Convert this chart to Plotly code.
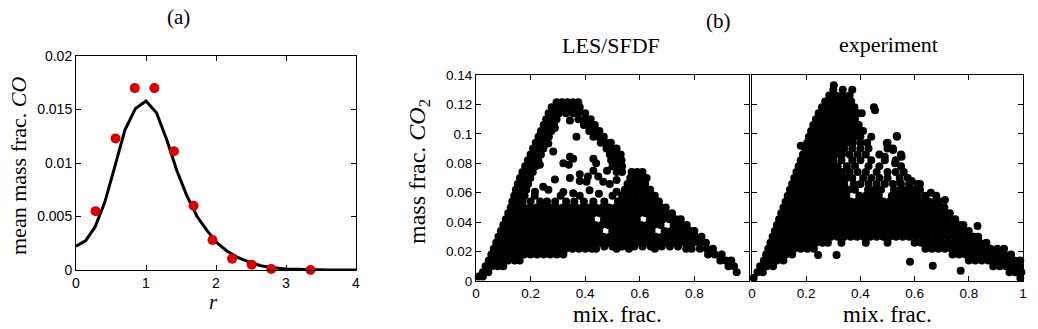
import plotly.graph_objects as go

# (a) mean CO mass fraction against r
r_model = [0, 0.14, 0.27, 0.41, 0.56, 0.70, 0.85, 1.0, 1.15, 1.3, 1.44, 1.58, 1.73, 1.87,
           2.02, 2.16, 2.30, 2.45, 2.64, 2.83, 3.0, 3.3, 3.6, 4.0]
co_model = [0.00222, 0.00275, 0.004, 0.0063, 0.0098, 0.0131, 0.0151, 0.0158, 0.0147, 0.0121,
            0.0093, 0.0070, 0.0050, 0.0037, 0.0025, 0.00175, 0.0012, 0.0008, 0.0004, 0.0002,
            0.0001, 0.00003, 0.00001, 0.0]
r_meas = [0.28, 0.565, 0.84, 1.12, 1.40, 1.68, 1.95, 2.23, 2.51, 2.79, 3.35]
co_meas = [0.0055, 0.0123, 0.017, 0.017, 0.0111, 0.006, 0.0028, 0.00106, 0.0005, 0.0001, 0.0]

# (b) scatter clouds: (CO2, [mix. frac. values])
les_band_rows = [
    (0.003, [0.01, 0.025]),
    (0.006, [0.025, 0.045, 0.955]),
    (0.010, [0.035, 0.058, 0.08, 0.1, 0.925, 0.945]),
    (0.014, [0.047, 0.07, 0.094, 0.118, 0.142, 0.16, 0.895, 0.915, 0.935]),
    (0.018, [0.056, 0.08, 0.104, 0.128, 0.152, 0.176, 0.2, 0.224, 0.248, 0.272, 0.296, 0.32,
             0.85, 0.875, 0.9]),
    (0.022, [0.065, 0.089, 0.113, 0.137, 0.161, 0.185, 0.209, 0.233, 0.257, 0.281, 0.305, 0.329,
             0.353, 0.377, 0.401, 0.425, 0.44, 0.515, 0.56, 0.655, 0.77, 0.79, 0.82, 0.845,
             0.868]),
    (0.0235, [0.47, 0.5, 0.535, 0.58, 0.61, 0.64, 0.68, 0.71, 0.74]),
    (0.026, [0.074, 0.098, 0.122, 0.146, 0.17, 0.194, 0.218, 0.242, 0.266, 0.29, 0.314, 0.338,
             0.362, 0.386, 0.41, 0.434, 0.458, 0.482, 0.506, 0.53, 0.554, 0.578, 0.602, 0.626,
             0.65, 0.674, 0.698, 0.722, 0.746, 0.77, 0.794, 0.818, 0.842]),
    (0.030, [0.082, 0.106, 0.13, 0.154, 0.178, 0.202, 0.226, 0.25, 0.274, 0.298, 0.322, 0.346,
             0.37, 0.394, 0.418, 0.442, 0.466, 0.49, 0.514, 0.538, 0.562, 0.586, 0.61, 0.634,
             0.658, 0.682, 0.706, 0.73, 0.754, 0.778, 0.802, 0.826]),
    (0.034, [0.091, 0.115, 0.139, 0.163, 0.187, 0.211, 0.235, 0.259, 0.283, 0.307, 0.331, 0.355,
             0.379, 0.403, 0.427, 0.451, 0.499, 0.523, 0.547, 0.571, 0.595, 0.619, 0.643,
             0.691, 0.715, 0.739, 0.763, 0.787, 0.8]),
    (0.038, [0.1, 0.124, 0.148, 0.172, 0.196, 0.22, 0.244, 0.268, 0.292, 0.316, 0.34, 0.364,
             0.388, 0.412, 0.436, 0.46, 0.484, 0.508, 0.532, 0.556, 0.58, 0.604, 0.628, 0.652,
             0.676, 0.724, 0.748, 0.772]),
    (0.042, [0.109, 0.133, 0.157, 0.181, 0.205, 0.229, 0.253, 0.277, 0.301, 0.325, 0.349, 0.373,
             0.397, 0.421, 0.469, 0.493, 0.517, 0.541, 0.565, 0.589, 0.637, 0.661, 0.685,
             0.709, 0.733, 0.75]),
    (0.046, [0.118, 0.142, 0.166, 0.19, 0.214, 0.238, 0.262, 0.286, 0.31, 0.334, 0.358, 0.382,
             0.406, 0.43, 0.454, 0.478, 0.502, 0.526, 0.55, 0.574, 0.598, 0.622, 0.646, 0.67,
             0.694, 0.718]),
    (0.050, [0.127, 0.151, 0.175, 0.199, 0.223, 0.247, 0.271, 0.295, 0.319, 0.343, 0.367, 0.391,
             0.415, 0.439, 0.463, 0.487, 0.511, 0.535, 0.559, 0.583, 0.607, 0.631, 0.655, 0.679,
             0.695]),
    (0.054, [0.2, 0.235, 0.26, 0.29, 0.33, 0.36, 0.395, 0.43, 0.47, 0.52, 0.545, 0.57, 0.595,
             0.62, 0.645, 0.67]),
    (0.058, [0.215, 0.31, 0.38, 0.5, 0.535, 0.56, 0.585, 0.61, 0.635, 0.655]),
    (0.062, [0.545, 0.57, 0.595, 0.62, 0.638]),
    (0.066, [0.555, 0.58, 0.6, 0.62]),
    (0.070, [0.565, 0.585, 0.605, 0.625]),
]
les_tri_rows = [
    (0.054, [0.133, 0.153, 0.171]),
    (0.058, [0.14, 0.16, 0.178]),
    (0.062, [0.146, 0.166, 0.184]),
    (0.066, [0.153, 0.173, 0.191]),
    (0.070, [0.161, 0.181, 0.199]),
    (0.074, [0.17, 0.19, 0.208, 0.515, 0.535, 0.57, 0.59, 0.61]),
    (0.078, [0.18, 0.2, 0.218, 0.5, 0.518, 0.535]),
    (0.082, [0.19, 0.21, 0.228, 0.495, 0.515, 0.533]),
    (0.086, [0.2, 0.22, 0.238, 0.49, 0.51, 0.53]),
    (0.090, [0.209, 0.229, 0.247, 0.478, 0.497, 0.515]),
    (0.094, [0.219, 0.239, 0.257, 0.457, 0.475, 0.494]),
    (0.098, [0.229, 0.249, 0.267, 0.43, 0.449, 0.468]),
    (0.102, [0.238, 0.258, 0.276, 0.415, 0.433, 0.452]),
    (0.106, [0.248, 0.268, 0.286, 0.395, 0.415, 0.435]),
    (0.110, [0.257, 0.277, 0.295, 0.375, 0.4, 0.42]),
    (0.114, [0.266, 0.286, 0.304, 0.33, 0.355, 0.375, 0.4]),
    (0.118, [0.277, 0.297, 0.317, 0.34, 0.36, 0.38]),
    (0.1215, [0.295, 0.315, 0.335, 0.355, 0.375]),
]
les_dots = [(0.283, 0.108), (0.344, 0.109), (0.289, 0.104), (0.368, 0.098), (0.283, 0.088),
            (0.344, 0.0845), (0.34, 0.079), (0.32, 0.080), (0.356, 0.083), (0.234, 0.079),
            (0.289, 0.069), (0.344, 0.070), (0.38, 0.0725), (0.41, 0.071), (0.43, 0.075),
            (0.38, 0.068), (0.43, 0.083), (0.265, 0.062), (0.32, 0.0605), (0.416, 0.0616),
            (0.45, 0.0593), (0.48, 0.075), (0.44, 0.080), (0.466, 0.0675), (0.49, 0.066),
            (0.515, 0.0686), (0.405, 0.0675), (0.448, 0.071), (0.246, 0.064), (0.216, 0.0607),
            (0.356, 0.0596), (0.515, 0.0607), (0.265, 0.0935)]

exp_band_rows = [
    (0.002, [0.006, 0.99]),
    (0.006, [0.02, 0.04, 0.95, 0.972, 0.994]),
    (0.010, [0.03, 0.054, 0.078, 0.89, 0.914, 0.938, 0.962, 0.986]),
    (0.014, [0.044, 0.068, 0.092, 0.116, 0.80, 0.824, 0.848, 0.872, 0.896, 0.92, 0.944, 0.968,
             0.99]),
    (0.018, [0.052, 0.076, 0.1, 0.124, 0.148, 0.74, 0.764, 0.788, 0.812, 0.836, 0.86, 0.884,
             0.908, 0.932, 0.956]),
    (0.022, [0.06, 0.084, 0.108, 0.132, 0.156, 0.18, 0.204, 0.228, 0.64, 0.664, 0.688, 0.712,
             0.736, 0.76, 0.784, 0.808, 0.832, 0.856, 0.88, 0.905, 0.93]),
    (0.026, [0.068, 0.092, 0.116, 0.14, 0.164, 0.188, 0.212, 0.236, 0.26, 0.28, 0.33, 0.42, 0.5,
             0.6, 0.624, 0.648, 0.672, 0.696, 0.72, 0.744, 0.768, 0.792, 0.816, 0.84, 0.865]),
    (0.030, [0.076, 0.1, 0.124, 0.148, 0.172, 0.196, 0.22, 0.244, 0.268, 0.292, 0.316, 0.34,
             0.364, 0.388, 0.412, 0.436, 0.46, 0.484, 0.508, 0.532, 0.556, 0.58, 0.604, 0.628,
             0.652, 0.676, 0.7, 0.724, 0.748, 0.772, 0.796, 0.82, 0.835]),
    (0.034, [0.084, 0.108, 0.132, 0.156, 0.18, 0.204, 0.228, 0.252, 0.276, 0.3, 0.324, 0.348,
             0.372, 0.396, 0.42, 0.444, 0.468, 0.492, 0.516, 0.54, 0.564, 0.588, 0.612, 0.636,
             0.66, 0.684, 0.708, 0.732, 0.756, 0.78, 0.8]),
    (0.038, [0.092, 0.116, 0.14, 0.164, 0.188, 0.212, 0.236, 0.26, 0.284, 0.308, 0.332, 0.356,
             0.38, 0.404, 0.428, 0.452, 0.476, 0.5, 0.524, 0.548, 0.572, 0.596, 0.62, 0.644,
             0.668, 0.692, 0.716, 0.74, 0.764, 0.78]),
    (0.042, [0.1, 0.124, 0.148, 0.172, 0.196, 0.22, 0.244, 0.268, 0.292, 0.316, 0.34, 0.364,
             0.388, 0.412, 0.436, 0.46, 0.484, 0.508, 0.532, 0.556, 0.58, 0.604, 0.628, 0.652,
             0.676, 0.7, 0.724, 0.75]),
    (0.046, [0.108, 0.132, 0.156, 0.18, 0.204, 0.228, 0.252, 0.276, 0.3, 0.324, 0.348, 0.372,
             0.396, 0.42, 0.444, 0.468, 0.492, 0.516, 0.54, 0.564, 0.588, 0.612, 0.636, 0.66,
             0.684, 0.708, 0.73]),
    (0.050, [0.116, 0.14, 0.164, 0.188, 0.212, 0.236, 0.26, 0.284, 0.308, 0.332, 0.356, 0.38,
             0.404, 0.428, 0.452, 0.476, 0.5, 0.524, 0.548, 0.572, 0.596, 0.62, 0.644, 0.668,
             0.692, 0.71]),
    (0.054, [0.124, 0.148, 0.172, 0.196, 0.22, 0.244, 0.268, 0.292, 0.316, 0.34, 0.364, 0.388,
             0.412, 0.436, 0.46, 0.484, 0.508, 0.532, 0.556, 0.58, 0.604, 0.628, 0.652, 0.676,
             0.69]),
    (0.058, [0.132, 0.156, 0.18, 0.204, 0.228, 0.252, 0.276, 0.3, 0.324, 0.348, 0.396, 0.42,
             0.444, 0.468, 0.516, 0.54, 0.564, 0.588, 0.612, 0.64]),
    (0.062, [0.14, 0.164, 0.188, 0.212, 0.236, 0.26, 0.284, 0.308, 0.332, 0.356, 0.38, 0.428,
             0.452, 0.476, 0.524, 0.548, 0.572, 0.596, 0.62]),
]
exp_tri_rows = [
    (0.066, [0.148, 0.172, 0.196, 0.22, 0.244, 0.268, 0.292, 0.316, 0.34, 0.375, 0.4, 0.43,
             0.46, 0.49, 0.52, 0.55, 0.58, 0.61]),
    (0.070, [0.156, 0.18, 0.204, 0.228, 0.252, 0.276, 0.3, 0.324, 0.348, 0.37, 0.41, 0.44,
             0.47, 0.5, 0.545, 0.575]),
    (0.074, [0.164, 0.188, 0.212, 0.236, 0.26, 0.284, 0.308, 0.332, 0.36, 0.39, 0.42, 0.46,
             0.5, 0.53, 0.56]),
    (0.078, [0.172, 0.196, 0.22, 0.244, 0.268, 0.292, 0.316, 0.35, 0.38, 0.43, 0.47, 0.55]),
    (0.082, [0.18, 0.204, 0.228, 0.252, 0.276, 0.3, 0.33, 0.37, 0.4, 0.44, 0.49, 0.53]),
    (0.086, [0.188, 0.212, 0.236, 0.26, 0.284, 0.308, 0.332, 0.36, 0.39, 0.42, 0.47, 0.55]),
    (0.090, [0.196, 0.22, 0.244, 0.268, 0.292, 0.316, 0.34, 0.37, 0.4, 0.43, 0.5, 0.52]),
    (0.094, [0.204, 0.228, 0.252, 0.276, 0.3, 0.324, 0.348, 0.372, 0.4, 0.425, 0.5]),
    (0.098, [0.21, 0.234, 0.258, 0.282, 0.306, 0.33, 0.354, 0.378, 0.4, 0.44, 0.535]),
    (0.102, [0.218, 0.242, 0.266, 0.29, 0.314, 0.338, 0.362, 0.386, 0.41]),
    (0.106, [0.226, 0.25, 0.274, 0.298, 0.322, 0.346, 0.37, 0.394]),
    (0.110, [0.236, 0.26, 0.284, 0.308, 0.332, 0.356, 0.38]),
    (0.114, [0.246, 0.27, 0.294, 0.318, 0.342, 0.366, 0.39, 0.405]),
    (0.118, [0.258, 0.282, 0.306, 0.33, 0.354, 0.378, 0.45]),
    (0.122, [0.27, 0.294, 0.318, 0.342, 0.366]),
    (0.126, [0.285, 0.31, 0.334, 0.36]),
    (0.130, [0.3, 0.335, 0.37]),
]
exp_dots = [(0.302, 0.133), (0.18, 0.092), (0.454, 0.116), (0.534, 0.0986), (0.497, 0.0936),
            (0.552, 0.0845), (0.521, 0.089), (0.528, 0.08), (0.49, 0.0845), (0.712, 0.055),
            (0.832, 0.0374), (0.667, 0.0104), (0.77, 0.007), (0.583, 0.013), (0.244, 0.0177),
            (0.312, 0.0177), (0.62, 0.066), (0.589, 0.068), (0.546, 0.067), (0.66, 0.06),
            (0.68, 0.058)]


def unpack(rows_a, rows_b, dots):
    xs, ys = [], []
    for y, row in rows_a + rows_b:
        xs += row
        ys += [y] * len(row)
    for x, y in dots:
        xs.append(x)
        ys.append(y)
    return xs, ys


les_x, les_y = unpack(les_band_rows, les_tri_rows, les_dots)
exp_x, exp_y = unpack(exp_band_rows, exp_tri_rows, exp_dots)

W, H = 1038, 329
SERIF = 'Liberation Serif, Times New Roman, serif'
SANS = 'Liberation Sans, Arial, sans-serif'

fig = go.Figure()
fig.add_trace(go.Scatter(x=r_model, y=co_model, mode='lines',
                         line=dict(color='black', width=3), xaxis='x', yaxis='y'))
fig.add_trace(go.Scatter(x=r_meas, y=co_meas, mode='markers', cliponaxis=False,
                         marker=dict(color='#d90000', size=10), xaxis='x', yaxis='y'))
fig.add_trace(go.Scatter(x=les_x, y=les_y, mode='markers', cliponaxis=False,
                         marker=dict(color='black', size=8), xaxis='x2', yaxis='y2'))
fig.add_trace(go.Scatter(x=exp_x, y=exp_y, mode='markers', cliponaxis=False,
                         marker=dict(color='black', size=8), xaxis='x3', yaxis='y3'))

axis_style = dict(showline=True, linecolor='black', linewidth=1, mirror='ticks',
                  ticks='inside', ticklen=5, tickcolor='black', showgrid=False,
                  zeroline=False, automargin=False,
                  tickfont=dict(family=SANS, size=14, color='black'))
small = dict(axis_style, tickfont=dict(family=SANS, size=13.5, color='black'))
co2_ticks = [0, 0.02, 0.04, 0.06, 0.08, 0.1, 0.12, 0.14]

fig.update_layout(
    template='none',
    width=W, height=H, margin=dict(l=0, r=0, t=0, b=0, autoexpand=False),
    paper_bgcolor='white', plot_bgcolor='white', showlegend=False,
    xaxis=dict(axis_style, domain=[76 / W, 356 / W], range=[0, 4],
               tickvals=[0, 1, 2, 3, 4], anchor='y'),
    yaxis=dict(axis_style, domain=[(H - 270) / H, (H - 56) / H], range=[0, 0.02],
               tickvals=[0, 0.005, 0.01, 0.015, 0.02],
               ticktext=['0', '0.005', '0.01', '0.015', '0.02'], anchor='x'),
    xaxis2=dict(small, domain=[476 / W, 749 / W], range=[0, 1],
                tickvals=[0, 0.2, 0.4, 0.6, 0.8],
                ticktext=['0', '0.2', '0.4', '0.6', '0.8'], anchor='y2'),
    yaxis2=dict(small, domain=[(H - 281) / H, (H - 75) / H], range=[0, 0.14],
                tickvals=co2_ticks,
                ticktext=['0', '0.02', '0.04', '0.06', '0.08', '0.1', '0.12', '0.14'],
                anchor='x2'),
    xaxis3=dict(small, domain=[752 / W, 1023 / W], range=[0, 1],
                tickvals=[0, 0.2, 0.4, 0.6, 0.8, 1],
                ticktext=['0', '0.2', '0.4', '0.6', '0.8', '1'], anchor='y3'),
    yaxis3=dict(small, domain=[(H - 281) / H, (H - 75) / H], range=[0, 0.14],
                tickvals=co2_ticks, showticklabels=False, anchor='x3'),
)


def label(text, px, py, size, angle=0):
    fig.add_annotation(text=text, x=px / W, y=1 - py / H, xref='paper', yref='paper',
                       showarrow=False, textangle=angle, xanchor='center', yanchor='middle',
                       font=dict(family=SERIF, size=size, color='black'))


label('(a)', 178, 17, 21)
label('(b)', 718, 21, 21)
label('LES/SFDF', 611, 45, 22)
label('experiment', 888, 44, 22)
label('mean mass frac. <i>CO</i>', 18, 166, 22, -90)
label('<i>r</i>', 213, 302, 21)
label('mass frac. <i>CO</i><sub>2</sub>', 419, 172, 24, -90)
label('mix. frac.', 617, 314, 23)
label('mix. frac.', 887, 314, 23)

# the page body keeps its default 8px margin otherwise
fig.write_html('out.html', config={'displayModeBar': False},
               post_script="document.body.style.margin='0';")
